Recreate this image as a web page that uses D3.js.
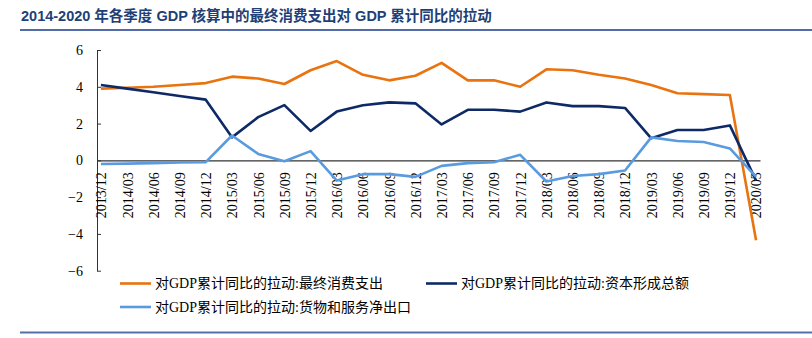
<!DOCTYPE html>
<html>
<head>
<meta charset="utf-8">
<script src="https://cdn.jsdelivr.net/npm/d3@7/dist/d3.min.js"></script>
<style>
     body { margin: 0; background: #fff; }
     svg { display: block; }
</style>
</head>
<body>
<div id="chart"></div>
<script>
const quarters = ['2013/12', '2014/03', '2014/06', '2014/09', '2014/12', '2015/03', '2015/06', '2015/09', '2015/12',
     '2016/03', '2016/06', '2016/09', '2016/12', '2017/03', '2017/06', '2017/09', '2017/12',
     '2018/03', '2018/06', '2018/09', '2018/12', '2019/03', '2019/06', '2019/09', '2019/12', '2020/03'];

const consumption = [3.9, 3.95, 4.0, 4.1, 4.2, 4.55, 4.45, 4.15, 4.9, 5.4, 4.65, 4.35, 4.6, 5.3, 4.35, 4.35, 4.0,
     4.95, 4.9, 4.65, 4.45, 4.1, 3.65, 3.6, 3.55, -4.35];
const capital = [4.1, 3.9, 3.7, 3.5, 3.3, 1.25, 2.35, 3.0, 1.6, 2.65, 3.0, 3.15, 3.1, 1.95, 2.75, 2.75, 2.65,
     3.15, 2.95, 2.95, 2.85, 1.2, 1.65, 1.65, 1.9, -1.1];
const netExports = [-0.2, -0.18, -0.15, -0.12, -0.1, 1.35, 0.35, -0.05, 0.5, -1.1, -0.75, -0.75, -0.9, -0.3, -0.15, -0.1, 0.3,
     -1.15, -0.85, -0.75, -0.55, 1.25, 1.05, 1.0, 0.65, -0.9];

const yTicks = [-6, -4, -2, 0, 2, 4, 6];

const seriesNames = ['对GDP累计同比的拉动:最终消费支出', '对GDP累计同比的拉动:资本形成总额', '对GDP累计同比的拉动:货物和服务净出口'];
const seriesColours = ['#E8730F', '#0E2A66', '#5A9BE0'];

const width = 812;
const height = 338;
const serif = '"Liberation Serif", "Noto Sans CJK SC", serif';

window.onload = function() {
     drawChart();
};

function drawChart(){
     let svg = d3.select('#chart')
                    .append('svg')
                         .attr('width', width)
                         .attr('height', height);

     // title + rules
     svg.append('text')
          .attr('x', 21)
          .attr('y', 21)
          .attr('font-family', '"Liberation Sans", "Noto Sans CJK SC", sans-serif')
          .attr('font-weight', 'bold')
          .attr('font-size', '14.5px')
          .attr('fill', '#1F3F77')
          .text('2014-2020 年各季度 GDP 核算中的最终消费支出对 GDP 累计同比的拉动');

     svg.append('line')
          .attr('x1', 20).attr('x2', width)
          .attr('y1', 30).attr('y2', 30)
          .attr('stroke', '#1B3A8C')
          .attr('stroke-width', 1.7);

     svg.append('line')
          .attr('x1', 20).attr('x2', width)
          .attr('y1', 332.5).attr('y2', 332.5)
          .attr('stroke', '#5470A8')
          .attr('stroke-width', 2);

     const xScale = d3.scalePoint()
                         .domain(quarters)
                         .range([97, 760])
                         .padding(0.15);

     const yScale = d3.scaleLinear()
                         .domain([-6, 6])
                         .range([270.7, 50]);

     // y-axis, ticks pointing inward
     let yAxis = svg.append('g')
          .attr('transform', 'translate(97, 0)')
          .call(d3.axisLeft(yScale).tickValues(yTicks).tickSizeInner(-4).tickSizeOuter(0).tickPadding(14));

     yAxis.selectAll('text')
          .attr('font-family', serif)
          .attr('font-size', '14px')
          .attr('fill', '#000');
     yAxis.selectAll('path, line').attr('stroke', '#333');

     // x-axis sits at zero
     let xAxis = svg.append('g')
          .attr('transform', `translate(0, ${yScale(0)})`)
          .call(d3.axisBottom(xScale).tickSize(0).tickSizeOuter(0));

     xAxis.select('.domain').attr('stroke', '#333').attr('stroke-width', 1.2);
     xAxis.selectAll('text')
          .attr('font-family', serif)
          .attr('font-size', '14px')
          .attr('fill', '#000')
          .attr('text-anchor', 'end')
          .attr('transform', 'rotate(-90)')
          .attr('x', -12)
          .attr('y', 0)
          .attr('dy', '0.35em');

     let seriesData = [consumption, capital, netExports];

     let line = d3.line()
                    .x((d, i) => xScale(quarters[i]))
                    .y((d) => yScale(d));

     seriesData.forEach((values, k) => {
          svg.append('path')
               .datum(values)
               .attr('d', line)
               .attr('fill', 'none')
               .attr('stroke', seriesColours[k])
               .attr('stroke-width', 2.6)
               .attr('stroke-linejoin', 'round');
     });

     // legend
     let legendPos = [[120, 283.5], [426, 283.5], [120, 307]];
     let legend = svg.append('g');

     seriesNames.forEach((name, k) => {
          let item = legend.append('g')
               .attr('transform', `translate(${legendPos[k][0]}, ${legendPos[k][1]})`);
          item.append('line')
               .attr('x1', 0).attr('x2', 31)
               .attr('stroke', seriesColours[k])
               .attr('stroke-width', 2.6);
          item.append('text')
               .attr('x', 35)
               .attr('dy', '0.35em')
               .attr('font-family', serif)
               .attr('font-size', '14px')
               .attr('fill', '#000')
               .text(name);
     });
}
</script>
</body>
</html>
